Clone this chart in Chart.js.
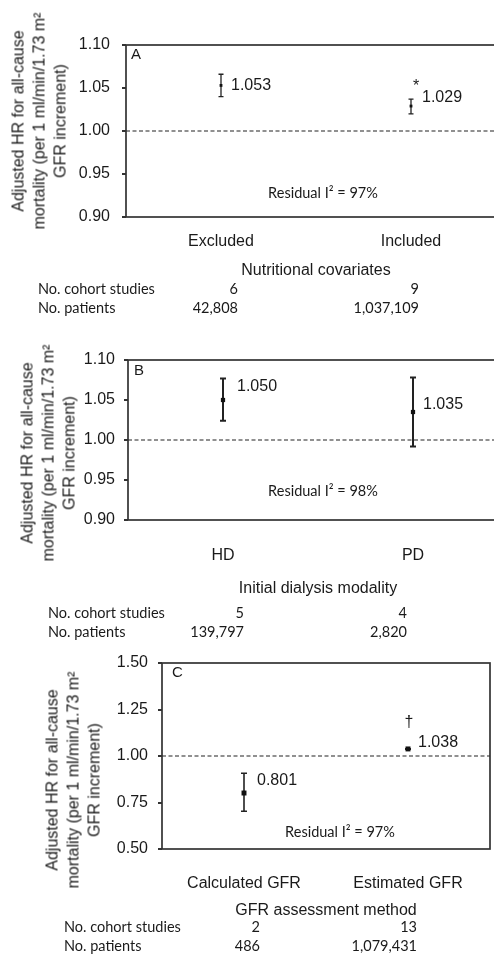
<!DOCTYPE html>
<html>
<head>
<meta charset="utf-8">
<script src="https://cdn.jsdelivr.net/npm/chart.js@4.4.1/dist/chart.umd.min.js"></script>
<style>
html, body { margin: 0; padding: 0; background: #fff; overflow: hidden; width: 494px; height: 957px; position: relative; }
.panel { position: absolute; left: 0; }
canvas { display: block; }
.ytitle { position: absolute; font: 16px "Liberation Sans", Arial, sans-serif; color: #1a1a1a; text-align: center;
  line-height: 21px; white-space: nowrap; transform: translate(-50%, -50%) rotate(-90deg); }
.row { position: absolute; font: 14.5px Lato, sans-serif; color: #1a1a1a; white-space: nowrap; line-height: 18px; }
.num { transform: translateX(-100%); }
</style>
</head>
<body>
<script>
// Panel A - nutritional covariates
const panelA_categories = ['Excluded', 'Included'];
const panelA_hr = [1.053, 1.029];
const panelA_lower = [1.040, 1.020];
const panelA_upper = [1.066, 1.037];
const panelA_marks = ['', '*'];
const panelA_studies = ['6', '9'];
const panelA_patients = ['42,808', '1,037,109'];
const panelA_yTicks = [0.90, 0.95, 1.00, 1.05, 1.10];

// Panel B - initial dialysis modality
const panelB_categories = ['HD', 'PD'];
const panelB_hr = [1.050, 1.035];
const panelB_lower = [1.024, 0.992];
const panelB_upper = [1.077, 1.078];
const panelB_marks = ['', ''];
const panelB_studies = ['5', '4'];
const panelB_patients = ['139,797', '2,820'];
const panelB_yTicks = [0.90, 0.95, 1.00, 1.05, 1.10];

// Panel C - GFR assessment method
const panelC_categories = ['Calculated GFR', 'Estimated GFR'];
const panelC_hr = [0.801, 1.038];
const panelC_lower = [0.703, 1.037];
const panelC_upper = [0.907, 1.039];
const panelC_marks = ['', '\u2020'];
const panelC_studies = ['2', '13'];
const panelC_patients = ['486', '1,079,431'];
const panelC_yTicks = [0.50, 0.75, 1.00, 1.25, 1.50];

const residualI2 = ['97%', '98%', '97%'];

const AXIS_FONT = '"Liberation Sans", Arial, sans-serif';
const NOTE_FONT = 'Lato, sans-serif';
const TEXT = '#1a1a1a';
const yTitleLines = ['Adjusted HR for all-cause', 'mortality (per 1 ml/min/1.73 m\u00b2', 'GFR increment)'];

const panelDecor = {
    id: 'panelDecor',
    beforeDatasetsDraw(chart, args, o) {
        const {ctx, chartArea: a, scales: {x, y}} = chart;
        ctx.save();
        // reference line at HR = 1
        const y1 = y.getPixelForValue(1);
        ctx.strokeStyle = '#222';
        ctx.lineWidth = 1.2;
        ctx.setLineDash([4, 2.5]);
        ctx.beginPath();
        ctx.moveTo(a.left, y1);
        ctx.lineTo(a.right, y1);
        ctx.stroke();
        ctx.setLineDash([]);
        // confidence intervals
        ctx.strokeStyle = '#222';
        ctx.lineWidth = o.barWidth;
        o.lower.forEach((lo, i) => {
            const px = x.getPixelForValue(i);
            const yl = y.getPixelForValue(lo);
            const yu = y.getPixelForValue(o.upper[i]);
            ctx.beginPath();
            ctx.moveTo(px, yl); ctx.lineTo(px, yu);
            ctx.moveTo(px - o.cap, yl); ctx.lineTo(px + o.cap, yl);
            ctx.moveTo(px - o.cap, yu); ctx.lineTo(px + o.cap, yu);
            ctx.stroke();
        });
        ctx.restore();
    },
    afterDatasetsDraw(chart, args, o) {
        const {ctx, chartArea: a, scales: {x, y}} = chart;
        ctx.save();
        ctx.strokeStyle = '#333';
        ctx.lineWidth = 1.7;
        ctx.strokeRect(a.left, a.top, a.right - a.left, a.bottom - a.top);

        ctx.fillStyle = TEXT;
        ctx.textBaseline = 'middle';
        ctx.textAlign = 'left';
        ctx.font = '16px ' + AXIS_FONT;
        o.hr.forEach((v, i) => {
            const px = x.getPixelForValue(i);
            const py = y.getPixelForValue(v);
            ctx.fillText(v.toFixed(3), px + o.labelOff[i][0], py + o.labelOff[i][1]);
            if (o.marks[i]) {
                ctx.textAlign = 'center';
                ctx.fillText(o.marks[i], px + o.markOff[i][0], py + o.markOff[i][1]);
                ctx.textAlign = 'left';
            }
        });

        ctx.font = '15px ' + AXIS_FONT;
        ctx.fillText(o.letter, a.left + o.letterOff[0], a.top + o.letterOff[1]);
        ctx.font = '14.5px ' + NOTE_FONT;
        ctx.textAlign = 'center';
        ctx.fillText('Residual I\u00b2 = ' + o.residual, o.residualPos[0], o.residualPos[1]);
        ctx.restore();
    }
};

function makePanel(p) {
    const wrap = document.createElement('div');
    wrap.className = 'panel';
    wrap.style.top = p.top + 'px';
    const cv = document.createElement('canvas');
    cv.width = p.width;
    cv.height = p.height;
    cv.style.width = p.width + 'px';
    cv.style.height = p.height + 'px';
    wrap.appendChild(cv);
    document.body.appendChild(wrap);

    new Chart(cv, {
        type: 'line',
        data: {
            labels: p.categories,
            datasets: [{
                data: p.hr,
                showLine: false,
                pointStyle: 'rect',
                pointRadius: p.pointR,
                pointBackgroundColor: '#111',
                pointBorderWidth: 0
            }]
        },
        options: {
            responsive: false,
            animation: false,
            events: [],
            layout: { padding: { top: p.padTop, right: p.padRight, left: 0, bottom: 0 } },
            plugins: {
                legend: { display: false },
                tooltip: { enabled: false },
                panelDecor: {
                    hr: p.hr, lower: p.lower, upper: p.upper, marks: p.marks,
                    labelOff: p.labelOff, markOff: p.markOff, cap: p.cap, barWidth: p.barWidth,
                    letter: p.letter, letterOff: p.letterOff, residual: p.residual, residualPos: p.residualPos
                }
            },
            scales: {
                x: {
                    type: 'category',
                    offset: true,
                    grid: { display: false, drawTicks: false },
                    border: { display: false },
                    ticks: { padding: p.xTickPad, color: TEXT, font: { family: AXIS_FONT, size: 16 } },
                    title: { display: true, text: p.xTitle, color: TEXT, font: { family: AXIS_FONT, size: 16 },
                             padding: { top: 0, bottom: p.xTitlePad } },
                    afterFit: s => { s.height = p.xHeight; }
                },
                y: {
                    min: p.yTicks[0],
                    max: p.yTicks[p.yTicks.length - 1],
                    afterBuildTicks: s => { s.ticks = p.yTicks.map(v => ({ value: v })); },
                    grid: { display: true, drawOnChartArea: false, drawTicks: true, tickLength: 4, color: '#333', lineWidth: 2 },
                    border: { display: false },
                    ticks: { padding: p.yTickPad, color: TEXT, font: { family: AXIS_FONT, size: 16 },
                             callback: v => Number(v).toFixed(2) },
                    afterFit: s => { s.width = p.yWidth; }
                }
            }
        },
        plugins: [panelDecor]
    });

    const t = document.createElement('div');
    t.className = 'ytitle';
    t.innerHTML = yTitleLines.join('<br>');
    t.style.left = p.yTitlePos[0] + 'px';
    t.style.top = p.yTitlePos[1] + 'px';
    document.body.appendChild(t);

    const rows = [['No. cohort studies', p.studies, p.rowY[0]], ['No. patients', p.patients, p.rowY[1]]];
    rows.forEach(([name, vals, cy]) => {
        const lab = document.createElement('div');
        lab.className = 'row';
        lab.textContent = name;
        lab.style.left = p.rowX + 'px';
        lab.style.top = (cy - 9) + 'px';
        document.body.appendChild(lab);
        vals.forEach((v, i) => {
            const d = document.createElement('div');
            d.className = 'row num';
            d.textContent = v;
            d.style.left = p.colRight[i] + 'px';
            d.style.top = (cy - 9) + 'px';
            document.body.appendChild(d);
        });
    });
}

makePanel({
    top: 0, width: 512, height: 285, padTop: 45, padRight: 6,
    yWidth: 126, yTickPad: 12, xHeight: 68, xTickPad: 15, xTitlePad: 5,
    categories: panelA_categories, hr: panelA_hr, lower: panelA_lower, upper: panelA_upper,
    marks: panelA_marks, studies: panelA_studies, patients: panelA_patients, yTicks: panelA_yTicks,
    xTitle: 'Nutritional covariates', letter: 'A', residual: residualI2[0],
    pointR: 2, cap: 2.5, barWidth: 1.3,
    labelOff: [[10, 0], [11, -8]], markOff: [[0, 0], [5, -19]],
    letterOff: [5, 10], residualPos: [323, 193],
    yTitlePos: [39, 121], rowX: 38, rowY: [289, 308], colRight: [238, 419]
});

makePanel({
    top: 320, width: 514, height: 280, padTop: 40, padRight: 6,
    yWidth: 128, yTickPad: 9, xHeight: 80, xTickPad: 26, xTitlePad: 2,
    categories: panelB_categories, hr: panelB_hr, lower: panelB_lower, upper: panelB_upper,
    marks: panelB_marks, studies: panelB_studies, patients: panelB_patients, yTicks: panelB_yTicks,
    xTitle: 'Initial dialysis modality', letter: 'B', residual: residualI2[1],
    pointR: 3, cap: 3, barWidth: 2,
    labelOff: [[14, -13], [10, -7]], markOff: [[0, 0], [0, 0]],
    letterOff: [6, 11], residualPos: [323, 171],
    yTitlePos: [48, 453], rowX: 48, rowY: [613, 632], colRight: [244, 407]
});

makePanel({
    top: 630, width: 494, height: 295, padTop: 33, padRight: 3,
    yWidth: 162, yTickPad: 10, xHeight: 76, xTickPad: 25, xTitlePad: 5,
    categories: panelC_categories, hr: panelC_hr, lower: panelC_lower, upper: panelC_upper,
    marks: panelC_marks, studies: panelC_studies, patients: panelC_patients, yTicks: panelC_yTicks,
    xTitle: 'GFR assessment method', letter: 'C', residual: residualI2[2],
    pointR: 3.5, cap: 3, barWidth: 1.6,
    labelOff: [[13, -12], [10, -6]], markOff: [[0, 0], [1, -26]],
    letterOff: [10, 10], residualPos: [340, 202],
    yTitlePos: [73, 780], rowX: 64, rowY: [927, 946], colRight: [260, 417]
});
</script>
</body>
</html>
